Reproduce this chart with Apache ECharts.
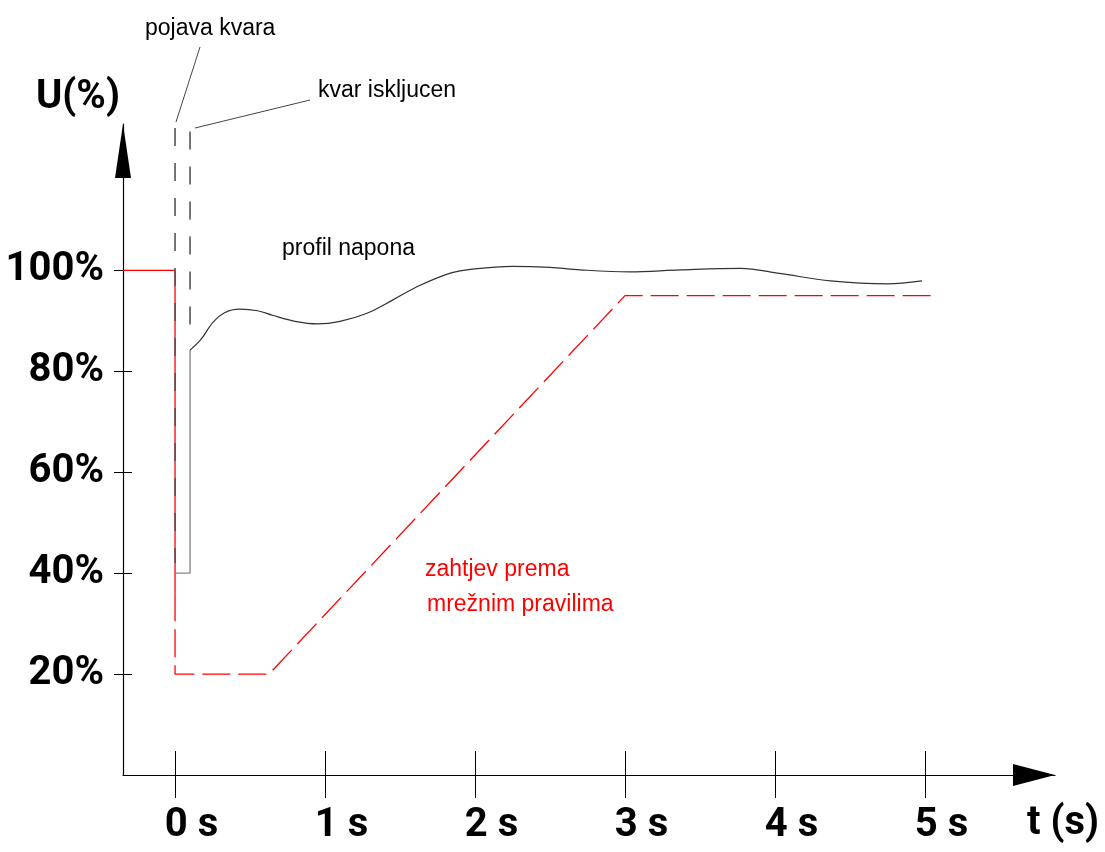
<!DOCTYPE html>
<html>
<head>
<meta charset="utf-8">
<script src="https://cdn.jsdelivr.net/npm/echarts@6/dist/echarts.min.js"></script>
<style>
html,body{margin:0;padding:0;background:#fff;}
#c{width:1105px;height:852px;}
</style>
</head>
<body>
<div id="c"></div>
<script>
// ---- data ----
const xTicks = [0, 1, 2, 3, 4, 5];
const yTicks = [20, 40, 60, 80, 100];
const xRange = [-0.347, 5.867];
const yRange = [0, 129];

// grid-code requirement (red)
const reqSolidT = [-0.347, 0, 0];
const reqSolidU = [100, 100, 36];
const reqDashT = [0, 0, 0.627, 3, 5.04];
const reqDashU = [36, 20, 20, 95, 95];

// voltage profile (gray)
const stepT = [0, 0.1, 0.1];
const stepU = [40, 40, 84.2];
const profT = [0.1, 0.17, 0.25, 0.33, 0.43, 0.55, 0.65, 0.8, 0.95, 1.1, 1.28, 1.45, 1.61, 1.83, 2.0, 2.25, 2.5, 2.7, 3.03, 3.37, 3.77, 4.03, 4.37, 4.75, 4.98];
const profU = [84.2, 86.2, 89.6, 91.6, 92.3, 92.0, 91.1, 89.9, 89.4, 89.9, 91.5, 94.1, 96.7, 99.4, 100.3, 100.8, 100.6, 100.1, 99.7, 100.1, 100.4, 99.4, 97.9, 97.3, 97.9];

// fault event markers
const faultT = [0, 0];
const faultU = [128.2, 42];
const clearT = [0.1, 0.1];
const clearU = [127.5, 86];

const zip = (a, b) => a.map((v, i) => [v, b[i]]);

const labelFont = "Roboto, 'Liberation Sans', Arial, sans-serif";
const textFont = "'Liberation Sans', Arial, sans-serif";

const chart = echarts.init(document.getElementById('c'), null, {renderer: 'canvas'});

const baseX = {
  type: 'value', min: xRange[0], max: xRange[1],
  splitLine: {show: false},
  axisLine: {onZero: false}
};
const baseY = {
  type: 'value', min: yRange[0], max: yRange[1],
  splitLine: {show: false},
  axisLine: {onZero: false}
};

chart.setOption({
  animation: false,
  backgroundColor: '#fff',
  grid: {left: 123, right: 50, top: 124, bottom: 77, containLabel: false, outerBoundsMode: 'none'},
  xAxis: [
    Object.assign({}, baseX, {
      position: 'bottom',
      axisLine: {show: true, onZero: false, lineStyle: {color: '#000', width: 1.2},
        symbol: ['none', 'triangle'], symbolSize: [22, 42], symbolOffset: [0, -21]},
      axisTick: {show: true, inside: false, length: 23, customValues: xTicks, lineStyle: {color: '#000', width: 1}},
      axisLabel: {show: true, customValues: xTicks, formatter: '{value} s', margin: 31,
        fontFamily: labelFont, fontWeight: 'bold', fontSize: 40, color: '#000',
        align: 'center', padding: [0, 0, 0, 33]}
    }),
    Object.assign({}, baseX, {
      position: 'bottom',
      axisLine: {show: false, onZero: false},
      axisTick: {show: true, inside: true, length: 24, customValues: xTicks, lineStyle: {color: '#000', width: 1}},
      axisLabel: {show: false}
    })
  ],
  yAxis: [
    Object.assign({}, baseY, {
      position: 'left',
      axisLine: {show: true, onZero: false, lineStyle: {color: '#000', width: 1.2},
        symbol: ['none', 'triangle'], symbolSize: [16, 54], symbolOffset: [0, -27]},
      axisTick: {show: true, inside: false, length: 9, customValues: yTicks, lineStyle: {color: '#000', width: 1}},
      axisLabel: {show: true, customValues: yTicks, formatter: '{value}%', margin: 19,
        fontFamily: labelFont, fontWeight: 'bold', fontSize: 40, color: '#000',
        padding: [0, 0, 10, 0]}
    }),
    Object.assign({}, baseY, {
      position: 'left',
      axisLine: {show: false, onZero: false},
      axisTick: {show: true, inside: true, length: 9, customValues: yTicks, lineStyle: {color: '#000', width: 1}},
      axisLabel: {show: false}
    })
  ],
  series: [
    {
      name: 'zahtjev (solid)', type: 'line', data: zip(reqSolidT, reqSolidU),
      symbol: 'none', z: 3,
      lineStyle: {color: '#ff0000', width: 1.3}
    },
    {
      name: 'zahtjev prema mrežnim pravilima', type: 'line', data: zip(reqDashT, reqDashU),
      symbol: 'none', z: 3,
      lineStyle: {color: '#ff0000', width: 1.3, type: [28, 8]}
    },
    {
      name: 'profil step', type: 'line', data: zip(stepT, stepU),
      symbol: 'none', z: 4,
      lineStyle: {color: '#888', width: 1.4}
    },
    {
      name: 'profil napona', type: 'line', data: zip(profT, profU),
      symbol: 'none', smooth: 0.35, z: 4,
      lineStyle: {color: '#333', width: 1.2}
    },
    {
      name: 'pojava kvara', type: 'line', data: zip(faultT, faultU),
      symbol: 'none', z: 5,
      lineStyle: {color: '#555', width: 1.6, type: [18, 17]}
    },
    {
      name: 'kvar iskljucen', type: 'line', data: zip(clearT, clearU),
      symbol: 'none', z: 5,
      lineStyle: {color: '#555', width: 1.6, type: [18, 17]}
    }
  ],
  graphic: [
    {type: 'text', left: 36, top: 78, style: {text: 'U(%)', font: "bold 40px " + labelFont, fill: '#000'}},
    {type: 'text', right: 6, top: 804, style: {text: 't (s)', font: "bold 40px " + labelFont, fill: '#000'}},
    {type: 'text', left: 145, top: 17, style: {text: 'pojava kvara', font: "23px " + textFont, fill: '#000'}},
    {type: 'text', left: 318, top: 79, style: {text: 'kvar iskljucen', font: "23px " + textFont, fill: '#000'}},
    {type: 'text', left: 282, top: 237, style: {text: 'profil napona', font: "23px " + textFont, fill: '#000'}},
    {type: 'text', left: 425, top: 558, style: {text: 'zahtjev prema', font: "23px " + textFont, fill: '#ff0000'}},
    {type: 'text', left: 427, top: 593, style: {text: 'mrežnim pravilima', font: "23px " + textFont, fill: '#ff0000'}},
    {type: 'line', shape: {x1: 200, y1: 47, x2: 176, y2: 122}, style: {stroke: '#444', lineWidth: 1}},
    {type: 'line', shape: {x1: 310, y1: 100, x2: 195, y2: 128}, style: {stroke: '#444', lineWidth: 1}}
  ]
});
</script>
</body>
</html>
